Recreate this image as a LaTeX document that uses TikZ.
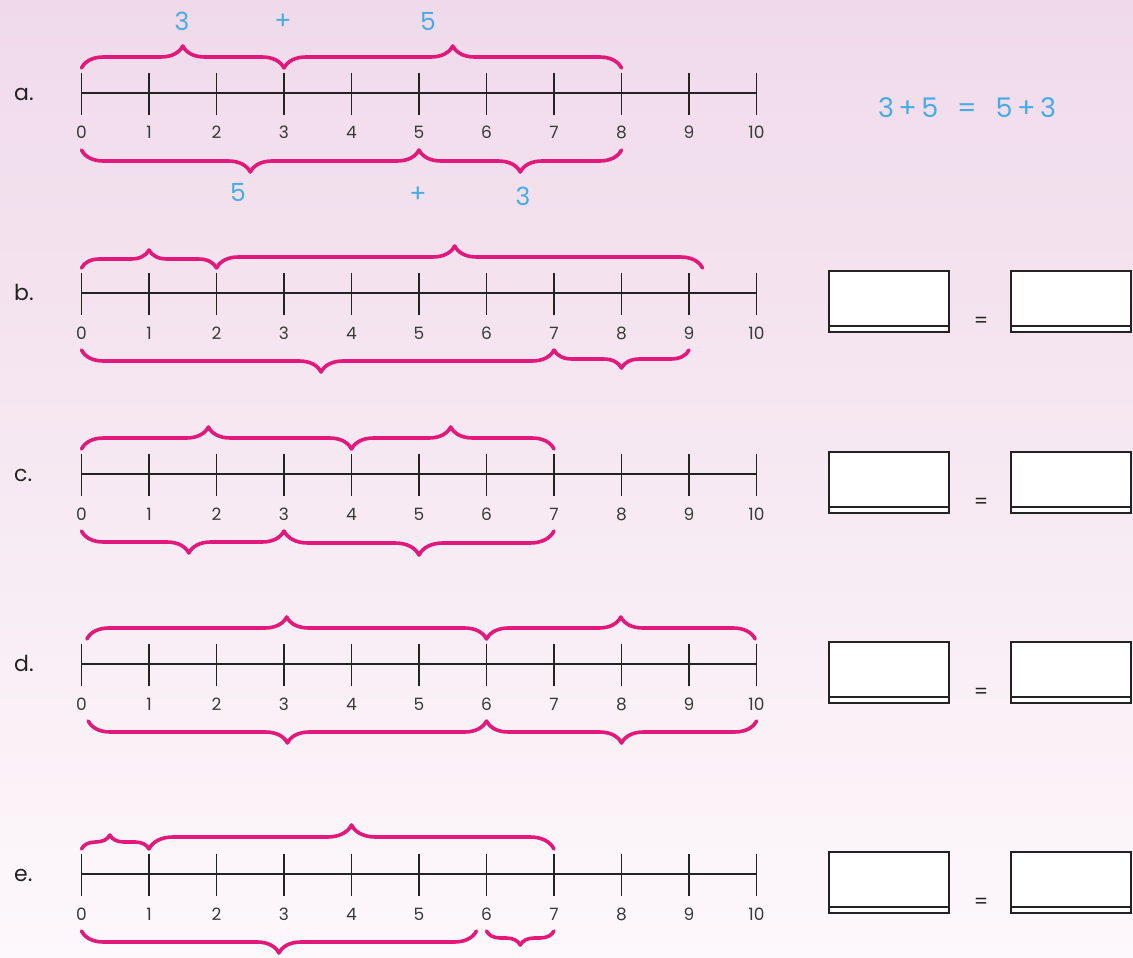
\documentclass[tikz,border=0pt]{standalone}
\usepackage{fontspec}
\setmainfont{Poppins}
\usetikzlibrary{decorations.pathreplacing}
\definecolor{bracecol}{RGB}{226,24,122}
\definecolor{bluecol}{RGB}{70,172,228}
\definecolor{inkcol}{RGB}{35,35,35}
\definecolor{bgtop}{RGB}{240,218,234}
\definecolor{bgbot}{RGB}{253,248,251}
% x position of tick k
\newcommand{\TX}[1]{81.5+67.5*(#1)}
% top brace: axis y, from, to, aspect, amplitude
\newcommand{\TopBrace}[5]{\draw[bracestyle,decoration={brace,amplitude=#5,aspect=#4}] ({\TX{#2}},{#1-25}) -- ({\TX{#3}},{#1-25});}
% bottom brace
\newcommand{\BotBrace}[5]{\draw[bracestyle,decoration={brace,mirror,amplitude=#5,aspect=#4}] ({\TX{#2}},{#1+57}) -- ({\TX{#3}},{#1+57});}
% number line: name, axis y, row letter
\newcommand{\NumLine}[3]{%
  \node[rowlabel] (#1-lab) at (14,{#2+7}) {#3.};
  \draw[axisline] ({\TX{0}},#2) -- ({\TX{10}},#2);
  \foreach \k in {0,...,10} {
    \draw[tickline] ({\TX{\k}},{#2-20}) -- ({\TX{\k}},{#2+22});
    \node[ticklabel] (#1-t\k) at ({\TX{\k}},{#2+46}) {\k};
  }}
% answer boxes: name, axis y
\newcommand{\AnsBoxes}[2]{%
  \node[ansbox] (#1-boxL) at (889,{#2+8.5}) {};
  \node[ansbox] (#1-boxR) at (1071,{#2+8.5}) {};
  \draw[boxline] ([yshift=7pt]#1-boxL.south west) -- ([yshift=7pt]#1-boxL.south east);
  \draw[boxline] ([yshift=7pt]#1-boxR.south west) -- ([yshift=7pt]#1-boxR.south east);
  \node[eqsign] (#1-eq) at (981,{#2+29}) {=};}
\begin{document}
\begin{tikzpicture}[x=1pt,y=-1pt,
  bracestyle/.style={draw=bracecol,line width=3.6pt,line cap=round,line join=round,decorate},
  axisline/.style={draw=inkcol,line width=1.5pt},
  tickline/.style={draw=inkcol,line width=1.5pt},
  boxline/.style={draw=inkcol,line width=1.8pt},
  ansbox/.style={draw=inkcol,line width=1.8pt,fill=white,minimum width=120pt,minimum height=61pt,inner sep=0pt},
  ticklabel/.style={anchor=base,inner sep=0pt,text=inkcol!90,font=\fontsize{17}{17}\selectfont},
  rowlabel/.style={anchor=base west,inner sep=0pt,text=inkcol,font=\fontsize{22}{22}\selectfont},
  bluelabel/.style={anchor=base,inner sep=0pt,text=bluecol,font=\fontsize{25}{25}\selectfont},
  eqsign/.style={inner sep=0pt,text=inkcol,font=\fontsize{20}{20}\selectfont},
]
\useasboundingbox (0,0) rectangle (1133,958);
\shade[top color=bgtop,bottom color=bgbot] (0,0) rectangle (1133,958);

% ---- row a ----
\NumLine{a}{93}{a}
\TopBrace{93}{0}{3}{0.5}{22}
\TopBrace{93}{3}{8}{0.5}{22}
\BotBrace{93}{0}{5}{0.5}{22}
\BotBrace{93}{5}{8}{0.5}{22}
\node[bluelabel] (a-top3) at (182,31) {3};
\node[bluelabel] (a-topplus) at (283,30) {+};
\node[bluelabel] (a-top5) at (428,31) {5};
\node[bluelabel] (a-bot5) at (238,201) {5};
\node[bluelabel] (a-botplus) at (418,202) {+};
\node[bluelabel] (a-bot3) at (523,205) {3};
\node[bluelabel,anchor=center,font=\fontsize{27}{27}\selectfont] (a-eqn) at (967,108) {3\,+\,5\hspace{0.7em}=\hspace{0.7em}5\,+\,3};

% ---- row b ----
\NumLine{b}{293}{b}
\TopBrace{293}{0}{2}{0.5}{18}
\TopBrace{293}{2}{9.2}{0.49}{22}
\BotBrace{293}{0}{7}{0.507}{22}
\BotBrace{293}{7}{9}{0.5}{18}
\AnsBoxes{b}{293}

% ---- row c ----
\NumLine{c}{474}{c}
\TopBrace{474}{0}{4}{0.47}{22}
\TopBrace{474}{4}{7}{0.49}{22}
\BotBrace{474}{0}{3}{0.53}{22}
\BotBrace{474}{3}{7}{0.5}{24}
\AnsBoxes{c}{474}

% ---- row d ----
\NumLine{d}{664}{d}
\TopBrace{664}{0.08}{6}{0.5}{22}
\TopBrace{664}{6}{9.98}{0.5}{22}
\BotBrace{664}{0.1}{6}{0.5}{22}
\BotBrace{664}{6}{10}{0.5}{22}
\AnsBoxes{d}{664}

% ---- row e ----
\NumLine{e}{874}{e}
\TopBrace{874}{0}{1}{0.42}{14}
\TopBrace{874}{1}{7}{0.5}{24}
\BotBrace{874}{0}{5.85}{0.5}{22}
\BotBrace{874}{6}{7}{0.5}{14}
\AnsBoxes{e}{874}
\end{tikzpicture}
\end{document}
